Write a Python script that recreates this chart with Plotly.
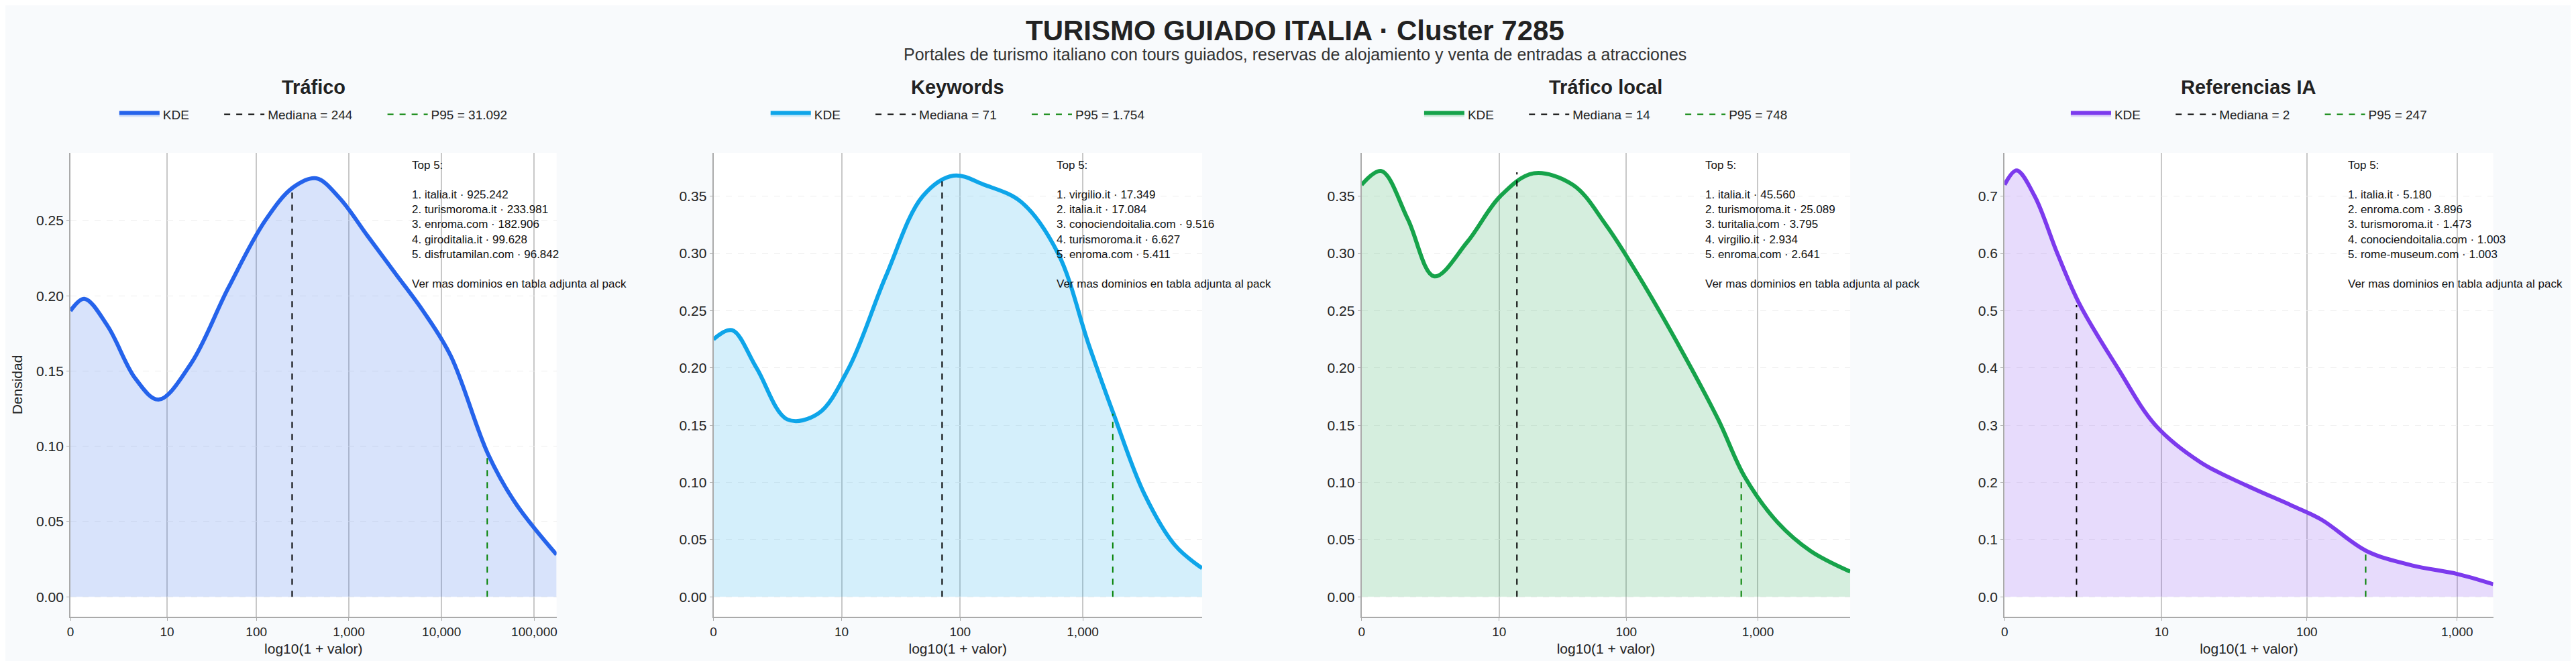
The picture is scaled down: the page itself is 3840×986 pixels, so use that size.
import numpy as np
import plotly.graph_objects as go

titles = ["Tráfico", "Keywords", "Tráfico local", "Referencias IA"]
colors = ["#2563eb", "#0ea5e9", "#16a34a", "#7c3aed"]
fills = ["rgba(37,99,235,0.18)", "rgba(14,165,233,0.18)", "rgba(22,163,74,0.18)", "rgba(124,58,237,0.18)"]

kde_x = [
    [0, 0.15, 0.4, 0.7, 0.95, 1.3, 1.7, 2.1, 2.4, 2.65, 2.9, 3.2, 3.5, 3.8, 4.1, 4.5, 4.8, 5.24],
    [0, 0.15, 0.35, 0.6, 0.85, 1.1, 1.4, 1.7, 1.95, 2.2, 2.5, 2.8, 3.05, 3.25, 3.5, 3.75, 3.97],
    [0, 0.15, 0.35, 0.55, 0.8, 1.05, 1.3, 1.6, 1.85, 2.1, 2.4, 2.7, 2.9, 3.15, 3.4, 3.7],
    [0, 0.08, 0.2, 0.35, 0.5, 0.75, 1.0, 1.3, 1.6, 1.9, 2.1, 2.4, 2.7, 3.0, 3.24],
]
kde_y = [
    [0.19, 0.198, 0.18, 0.145, 0.131, 0.155, 0.205, 0.25, 0.272, 0.278, 0.265, 0.24, 0.215, 0.19, 0.16, 0.095, 0.062, 0.028],
    [0.225, 0.233, 0.2, 0.155, 0.16, 0.2, 0.28, 0.35, 0.368, 0.36, 0.345, 0.3, 0.22, 0.16, 0.09, 0.045, 0.025],
    [0.36, 0.372, 0.33, 0.28, 0.31, 0.35, 0.37, 0.36, 0.325, 0.28, 0.22, 0.155, 0.105, 0.065, 0.04, 0.022],
    [0.72, 0.745, 0.7, 0.6, 0.51, 0.4, 0.3, 0.235, 0.195, 0.16, 0.135, 0.08, 0.055, 0.04, 0.022],
]
medians = [244, 71, 14, 2]
median_labels = ["244", "71", "14", "2"]
median_heights = [0.272, 0.363, 0.371, 0.51]
p95s = [31092, 1754, 748, 247]
p95_labels = ["31.092", "1.754", "748", "247"]
p95_heights = [0.095, 0.16, 0.105, 0.075]
x_max = [5.24, 3.97, 3.7, 3.24]
y_max = [0.295, 0.388, 0.388, 0.776]
tick_vals_raw = [0, 10, 100, 1000, 10000, 100000]
tick_text = ["0", "10", "100", "1,000", "10,000", "100,000"]
y_ticks = [
    [0, 0.05, 0.10, 0.15, 0.20, 0.25],
    [0, 0.05, 0.10, 0.15, 0.20, 0.25, 0.30, 0.35],
    [0, 0.05, 0.10, 0.15, 0.20, 0.25, 0.30, 0.35],
    [0, 0.1, 0.2, 0.3, 0.4, 0.5, 0.6, 0.7],
]
top5 = [
    ["italia.it · 925.242", "turismoroma.it · 233.981", "enroma.com · 182.906", "giroditalia.it · 99.628", "disfrutamilan.com · 96.842"],
    ["virgilio.it · 17.349", "italia.it · 17.084", "conociendoitalia.com · 9.516", "turismoroma.it · 6.627", "enroma.com · 5.411"],
    ["italia.it · 45.560", "turismoroma.it · 25.089", "turitalia.com · 3.795", "virgilio.it · 2.934", "enroma.com · 2.641"],
    ["italia.it · 5.180", "enroma.com · 3.896", "turismoroma.it · 1.473", "conociendoitalia.com · 1.003", "rome-museum.com · 1.003"],
]

domains = [(0.024, 0.213), (0.274, 0.464), (0.526, 0.716), (0.776, 0.966)]
FONT = "Liberation Sans, Arial, sans-serif"
PAD = "\u00a0" * 8

fig = go.Figure()
layout = dict(
    width=3840, height=986,
    paper_bgcolor="#f8fafc", plot_bgcolor="white",
    font=dict(family=FONT, color="#222", size=18),
    margin=dict(l=0, r=0, t=0, b=0),
    showlegend=True,
)
annotations = [
    dict(text="<b>TURISMO GUIADO ITALIA · Cluster 7285</b>", x=0.5, y=0.988, xref="paper", yref="paper",
         showarrow=False, xanchor="center", yanchor="top", font=dict(size=42, color="#222")),
    dict(text="Portales de turismo italiano con tours guiados, reservas de alojamiento y venta de entradas a atracciones",
         x=0.5, y=0.942, xref="paper", yref="paper", showarrow=False, xanchor="center", yanchor="top",
         font=dict(size=25, color="#333")),
]
for i in range(4):
    k = "" if i == 0 else str(i + 1)
    leg = "legend" + k
    xa, ya = "x" + k, "y" + k
    fig.add_trace(go.Scatter(x=kde_x[i], y=kde_y[i], mode="lines", line=dict(color=colors[i], width=6, shape="spline", smoothing=1.0),
                             fill="tozeroy", fillcolor=fills[i], name="KDE" + PAD, legend=leg, xaxis=xa, yaxis=ya))
    mx = np.log10(1 + medians[i])
    fig.add_trace(go.Scatter(x=[mx, mx], y=[0, median_heights[i]], mode="lines", line=dict(color="black", width=2, dash="dash"),
                             name=f"Mediana = {median_labels[i]}" + PAD, legend=leg, xaxis=xa, yaxis=ya))
    px = np.log10(1 + p95s[i])
    fig.add_trace(go.Scatter(x=[px, px], y=[0, p95_heights[i]], mode="lines", line=dict(color="green", width=2, dash="dash"),
                             name=f"P95 = {p95_labels[i]}", legend=leg, xaxis=xa, yaxis=ya))
    tv = [np.log10(1 + v) for v in tick_vals_raw if np.log10(1 + v) <= x_max[i] + 0.01]
    tt = tick_text[:len(tv)]
    layout["xaxis" + k] = dict(domain=domains[i], range=[0, x_max[i]], tickvals=tv, ticktext=tt, showgrid=True,
                               gridcolor="#c8c8c8", gridwidth=1.5, showline=True, linecolor="#aaa", linewidth=2,
                               ticks="outside", ticklen=4, tickcolor="#aaa", zeroline=False, anchor=ya,
                               title=dict(text="log10(1 + valor)", font=dict(size=21), standoff=8), tickfont=dict(size=19))
    layout["yaxis" + k] = dict(domain=[0.075, 0.777], range=[-0.045 * y_max[i], y_max[i]], tickvals=y_ticks[i],
                               tickformat=".2f" if i < 3 else ".1f", showgrid=True, gridcolor="#eeeeee", griddash="dash",
                               showline=True, linecolor="#aaa", linewidth=2, ticks="outside", ticklen=4, tickcolor="#aaa",
                               zeroline=False, anchor=xa, tickfont=dict(size=21),
                               title=dict(text="Densidad" if i == 0 else "", font=dict(size=21)))
    cx = (domains[i][0] + domains[i][1]) / 2
    layout[leg] = dict(orientation="h", x=cx, y=0.835, xanchor="center", yanchor="middle", bgcolor="rgba(0,0,0,0)",
                       font=dict(size=19), itemwidth=60)
    annotations.append(dict(text=f"<b>{titles[i]}</b>", x=cx, y=0.876, xref="paper", yref="paper", showarrow=False,
                            xanchor="center", yanchor="middle", font=dict(size=29, color="#222")))
    lines = "<br>".join(f"{j + 1}. {t}" for j, t in enumerate(top5[i]))
    annotations.append(dict(text=f"Top 5:<br><br>{lines}<br><br>Ver mas dominios en tabla adjunta al pack",
                            x=0.70, y=0.99, xref=xa + " domain", yref=ya + " domain", showarrow=False,
                            xanchor="left", yanchor="top", align="left", font=dict(size=17, color="#111")))
layout["annotations"] = annotations
fig.update_layout(**layout)
fig.write_html("out.html")
